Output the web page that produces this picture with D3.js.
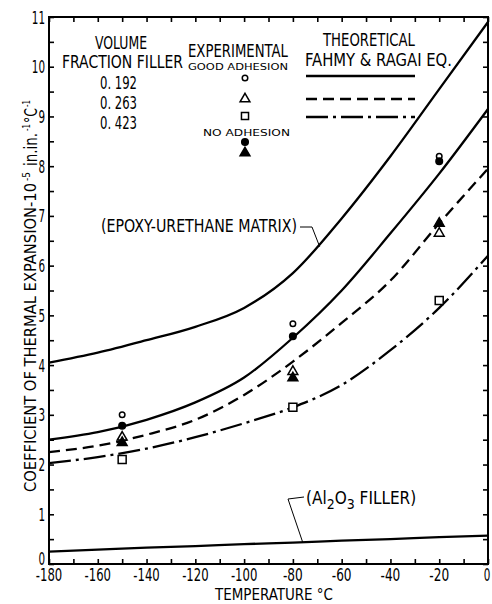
<!DOCTYPE html>
<html><head><meta charset="utf-8">
<script src="https://cdn.jsdelivr.net/npm/d3@7"></script>
<style>
body{margin:0;background:#fff}
text{font-family:"Liberation Sans Narrow","DejaVu Sans Condensed","Arial Narrow",sans-serif;fill:#000}
.sm{font-family:"DejaVu Sans","Liberation Sans",sans-serif}
</style>
</head><body>
<svg id="c" width="492" height="604"></svg>
<script>
// ---- data ----
const curveTemps = [-180,-160,-140,-120,-100,-80,-60,-40,-20,0];
const matrixCTE  = [4.05,4.25,4.5,4.77,5.15,5.85,6.95,8.2,9.55,10.9];
const vf192CTE   = [2.5,2.65,2.9,3.25,3.75,4.55,5.5,6.65,7.85,9.15];
const vf263CTE   = [2.25,2.38,2.6,2.9,3.4,4.07,4.85,5.7,6.85,7.95];
const vf423CTE   = [2.03,2.15,2.32,2.55,2.83,3.15,3.6,4.3,5.15,6.2];
const al2o3CTE   = [0.25,0.29,0.33,0.36,0.4,0.43,0.47,0.5,0.54,0.57];

const expTemps   = [-150,-80,-20];
const good192    = [3.0,4.83,8.2];
const none192    = [2.78,4.58,8.1];
const good263    = [2.55,3.87,6.65];
const none263    = [2.44,3.74,6.85];
const good423    = [2.1,3.15,5.3];

const xTickLabels = [-180,-160,-140,-120,-100,-80,-60,-40,-20,0];
const yTickLabels = [0,1,2,3,4,5,6,7,8,9,10,11];
const volumeFractions = ["0. 192","0. 263","0. 423"];

// ---- layout ----
const svg = d3.select("#c");
const x = d3.scaleLinear().domain([-180,0]).range([49,488]);
const y = d3.scaleLinear().domain([0,11]).range([564,17]);

// frame
svg.append("rect").attr("x",x(-180)).attr("y",y(11))
  .attr("width",x(0)-x(-180)).attr("height",y(0)-y(11))
  .attr("fill","none").attr("stroke","#000").attr("stroke-width",2);

// ticks (inward, all four sides)
const xTicks = d3.range(-180,1,10);
const yTicks = d3.range(0,11.01,0.5);
const tk = 5;
function tickAxis(axis, tr){
  const g = svg.append("g").attr("transform",tr).call(axis);
  g.select(".domain").remove();
  g.selectAll("text").remove();
  g.selectAll("line").attr("stroke","#000").attr("stroke-width",1.6);
}
tickAxis(d3.axisBottom(x).tickValues(xTicks).tickSize(-tk), `translate(0,${y(0)})`);
tickAxis(d3.axisTop(x).tickValues(xTicks).tickSize(-tk), `translate(0,${y(11)})`);
tickAxis(d3.axisLeft(y).tickValues(yTicks).tickSize(-tk), `translate(${x(-180)},0)`);
tickAxis(d3.axisRight(y).tickValues(yTicks).tickSize(-tk), `translate(${x(0)},0)`);

// tick labels
svg.append("g").selectAll("text").data(xTickLabels).join("text")
  .attr("x",d=>d===0?x(d)-1:x(d)).attr("y",581).attr("text-anchor","middle")
  .attr("font-size",18).attr("textLength",d=>String(d).length*6.6)
  .attr("lengthAdjust","spacingAndGlyphs").text(d=>d);
svg.append("g").selectAll("text").data(yTickLabels).join("text")
  .attr("x",45).attr("y",d=>y(d)+6.5-(d===0?6:0)).attr("text-anchor","end")
  .attr("font-size",18).attr("textLength",d=>String(d).length*6.6)
  .attr("lengthAdjust","spacingAndGlyphs").text(d=>d);

// axis titles
svg.append("text").attr("x",274).attr("y",600).attr("text-anchor","middle")
  .attr("font-size",16).attr("textLength",118).attr("lengthAdjust","spacingAndGlyphs")
  .text("TEMPERATURE °C");

function vtext(str, yStart, yEnd, bx, fs){
  svg.append("text").attr("transform",`translate(${bx},${yStart}) rotate(-90)`)
    .attr("font-size",fs).attr("textLength",yStart-yEnd)
    .attr("lengthAdjust","spacingAndGlyphs").text(str);
}
vtext("COEFFICIENT OF THERMAL EXPANSION-10",492,183,36,16.5);
vtext("-5",181,172,30,11);
vtext("in.in.",166,133,37,17);
vtext("-1",131,124,30,11);
vtext("°C",123,108,37,17);
vtext("-1",107,100,30,11);

// curves
const line = d3.line().x(d=>x(d[0])).y(d=>y(d[1])).curve(d3.curveMonotoneX);
function curve(vals, dash){
  svg.append("path").datum(curveTemps.map((t,i)=>[t,vals[i]]))
    .attr("d",line).attr("fill","none").attr("stroke","#000")
    .attr("stroke-width",2.3).attr("stroke-dasharray",dash||null);
}
const DASH = "11,6", DASHDOT = "22,5,3,5";
curve(matrixCTE);
curve(vf192CTE);
curve(vf263CTE, DASH);
curve(vf423CTE, DASHDOT);
curve(al2o3CTE);

// markers
function marks(vals, type, filled, size){
  svg.append("g").selectAll("path").data(expTemps.map((t,i)=>[t,vals[i]])).join("path")
    .attr("transform",d=>`translate(${x(d[0])},${y(d[1])})`)
    .attr("d",d3.symbol().type(type).size(size))
    .attr("fill",filled?"#000":"#fff").attr("stroke","#000").attr("stroke-width",1.5);
}
marks(good192, d3.symbolCircle, false, 24);
marks(none192, d3.symbolCircle, true, 34);
marks(good263, d3.symbolTriangle, false, 42);
marks(none263, d3.symbolTriangle, true, 42);
marks(good423, d3.symbolSquare, false, 64);

// labels with leaders
svg.append("text").attr("x",101).attr("y",232).attr("font-size",17)
  .attr("textLength",196).attr("lengthAdjust","spacingAndGlyphs")
  .text("(EPOXY-URETHANE MATRIX)");
svg.append("path").attr("d",`M300,227 L312,227 L${x(-69)},${y(6.38)}`)
  .attr("fill","none").attr("stroke","#000").attr("stroke-width",1);

const al = svg.append("text").attr("x",306).attr("y",504).attr("font-size",17);
al.append("tspan").text("(Al");
al.append("tspan").attr("dy",5).attr("font-size",14).text("2");
al.append("tspan").attr("dy",-5).text("O");
al.append("tspan").attr("dy",5).attr("font-size",14).text("3");
al.append("tspan").attr("dy",-5).text(" FILLER)");
svg.append("path").attr("d",`M304,497 L288,499 L${x(-76)},${y(0.44)}`)
  .attr("fill","none").attr("stroke","#000").attr("stroke-width",1);

// legend
function t(str,xx,yy,fs,len,cls,anchor){
  svg.append("text").attr("x",xx).attr("y",yy).attr("font-size",fs)
    .attr("text-anchor",anchor||"start").attr("class",cls||null)
    .attr("textLength",len).attr("lengthAdjust","spacingAndGlyphs").text(str);
}
t("VOLUME",95,49,17,52);
t("FRACTION FILLER",62,68,17,121);
volumeFractions.forEach((v,i)=>t(v,100,89+i*20,17,37));
t("EXPERIMENTAL",188,57,17,100);
t("GOOD ADHESION",188,70,9.5,100,"sm");
t("NO ADHESION",203,136,9.5,87,"sm");
t("THEORETICAL",323,46,17,92);
t("FAHMY & RAGAI EQ.",305,66,17,147);

const lg = [[d3.symbolCircle,false,24,78],[d3.symbolTriangle,false,42,99],[d3.symbolSquare,false,50,116],
            [d3.symbolCircle,true,34,142],[d3.symbolTriangle,true,42,153]];
lg.forEach(([ty,f,s,yy])=>{
  svg.append("path").attr("transform",`translate(245,${yy})`)
    .attr("d",d3.symbol().type(ty).size(s))
    .attr("fill",f?"#000":"#fff").attr("stroke","#000").attr("stroke-width",1.5);
});
[[76,null],[99,DASH],[117,DASHDOT]].forEach(([yy,da])=>{
  svg.append("line").attr("x1",306).attr("x2",415).attr("y1",yy).attr("y2",yy)
    .attr("stroke","#000").attr("stroke-width",2.3).attr("stroke-dasharray",da);
});
</script>
</body></html>
